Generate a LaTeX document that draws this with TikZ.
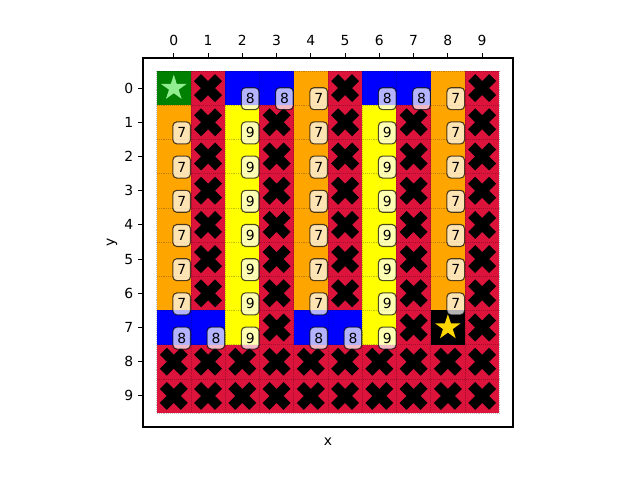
\documentclass[tikz,border=0pt]{standalone}
\usepackage{fontspec}
\setmainfont{DejaVu Sans}
\definecolor{mgreen}{RGB}{0,128,0}
\definecolor{crim}{RGB}{220,20,60}
\definecolor{mblue}{RGB}{0,0,255}
\definecolor{morange}{RGB}{255,165,0}
\definecolor{myellow}{RGB}{255,255,0}
\definecolor{lgreen}{RGB}{144,238,144}
\definecolor{mgold}{RGB}{255,215,0}
\tikzset{
  lab/.style={draw=black, draw opacity=0.7, fill=white, fill opacity=0.7, text opacity=1,
    rounded corners=2.9pt, minimum width=12.7pt, minimum height=15.8pt, inner sep=0pt,
    line width=0.8pt, font=\fontsize{10pt}{12pt}\selectfont},
  gridl/.style={black, opacity=0.25, line width=0.4pt, densely dotted},
  tickline/.style={line width=0.8pt},
  ticklab/.style={inner sep=0pt, font=\fontsize{10pt}{12pt}\selectfont}
}
\newcommand\xmark[2]{\fill[black,shift={(#1,#2)},rotate=45] (-0.144,-0.433) -- (0.144,-0.433) -- (0.144,-0.144) -- (0.433,-0.144) -- (0.433,0.144) -- (0.144,0.144) -- (0.144,0.433) -- (-0.144,0.433) -- (-0.144,0.144) -- (-0.433,0.144) -- (-0.433,-0.144) -- (-0.144,-0.144) -- cycle;}
\newcommand\mystar[3]{\fill[#3,shift={(#1,#2)}] (-90:0.39)
  -- (-54:0.149) -- (-18:0.39) -- (18:0.149) -- (54:0.39) -- (90:0.149)
  -- (126:0.39) -- (162:0.149) -- (198:0.39) -- (234:0.149) -- cycle;}
\begin{document}
\begin{tikzpicture}[x=0.72pt,y=-0.72pt]
\useasboundingbox (0,0) rectangle (640,480);
\fill[white] (0,0) rectangle (640,480);
\begin{scope}[shift={(173.8,88.1)}, x=24.667pt, y=-24.624pt]
  % cells
  \fill[crim] (-0.5,-0.5) rectangle (9.5,9.5);
  \fill[mgreen] (-0.5,-0.5) rectangle ++(1,1);
  \fill[black] (7.5,6.5) rectangle ++(1,1);
  \foreach \c/\r in {2/0,3/0,6/0,7/0,0/7,1/7,4/7,5/7}
    {\fill[mblue] (\c-0.5,\r-0.5) rectangle ++(1,1);}
  \foreach \r in {1,...,6} {\fill[morange] (-0.5,\r-0.5) rectangle ++(1,1);}
  \foreach \c in {4,8} {\foreach \r in {0,...,6}
    {\fill[morange] (\c-0.5,\r-0.5) rectangle ++(1,1);}}
  \foreach \c in {2,6} {\foreach \r in {1,...,7}
    {\fill[myellow] (\c-0.5,\r-0.5) rectangle ++(1,1);}}
  % grid lines
  \foreach \k in {0,...,10} {
    \draw[gridl] (\k-0.5,-0.5) -- (\k-0.5,9.5);
    \draw[gridl] (-0.5,\k-0.5) -- (9.5,\k-0.5);
  }
  % crosses
  \foreach \c in {1,5} {\foreach \r in {0,...,6} {\xmark{\c}{\r}}}
  \foreach \r in {0,...,7} {\xmark{9}{\r}}
  \foreach \c in {3,7} {\foreach \r in {1,...,7} {\xmark{\c}{\r}}}
  \foreach \c in {0,...,9} {\foreach \r in {8,9} {\xmark{\c}{\r}}}
  % stars
  \mystar{0}{0}{lgreen}
  \mystar{8}{7}{mgold}
  % labels
  \foreach \c/\r in {2/0,3/0,6/0,7/0,0/7,1/7,4/7,5/7}
    {\node[lab] (l\c-\r) at (\c+0.23,\r+0.31) {8};}
  \foreach \r in {1,...,6} {\node[lab] (l0-\r) at (0.23,\r+0.31) {7};}
  \foreach \c in {4,8} {\foreach \r in {0,...,6}
    {\node[lab] (l\c-\r) at (\c+0.23,\r+0.31) {7};}}
  \foreach \c in {2,6} {\foreach \r in {1,...,7}
    {\node[lab] (l\c-\r) at (\c+0.23,\r+0.31) {9};}}
\end{scope}
% axes frame
\draw[line width=0.8pt] (143,58) rectangle (513,427);
\foreach \i in {0,...,9} {
  \draw[tickline] ({173.8+34.26*\i},58) -- ({173.8+34.26*\i},53.1);
  \node[ticklab, anchor=base] (tx\i) at ({173.8+34.26*\i},45) {\i};
  \draw[tickline] (143,{88.1+34.2*\i}) -- (138.1,{88.1+34.2*\i});
  \node[ticklab, anchor=east] (ty\i) at (133.6,{88.1+34.2*\i}) {\i};
}
\node[ticklab, anchor=base] (xlab) at (328,445) {x};
\node[ticklab, rotate=90] (ylab) at (112,242) {y};
\end{tikzpicture}
\end{document}
